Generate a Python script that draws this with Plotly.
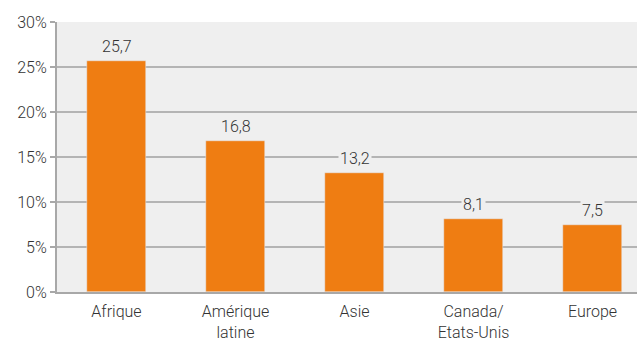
import plotly.graph_objects as go

categories = ["Afrique", "Amérique<br>latine", "Asie", "Canada/<br>Etats-Unis", "Europe"]
values = [25.7, 16.8, 13.2, 8.1, 7.5]
value_labels = ["25,7", "16,8", "13,2", "8,1", "7,5"]
y_ticks = [0, 5, 10, 15, 20, 25, 30]
y_tick_labels = ["0%", "5%", "10%", "15%", "20%", "25%", "30%"]

ORANGE = "#EF7D12"
PLOT_BG = "#EFEFEF"
GRID = "#B4B4B4"
TEXT = "#333333"
FONT = dict(size=16, color=TEXT, weight=300)

fig = go.Figure()
fig.add_bar(x=list(range(len(categories))), y=values, marker_color=ORANGE, width=0.5)

for i, (v, lab) in enumerate(zip(values, value_labels)):
    fig.add_annotation(
        x=i, y=v, text=lab, showarrow=False, yanchor="bottom", yshift=3,
        bgcolor=PLOT_BG, borderpad=1, font=FONT,
    )

fig.update_xaxes(
    tickvals=list(range(len(categories))), ticktext=categories,
    range=[-0.5, 4.374], showgrid=False, ticks="", automargin=False,
    showline=True, linecolor="#A8A8A8", linewidth=2,
    tickfont=FONT, ticklabelstandoff=4,
)
fig.update_yaxes(
    range=[0, 30], tickvals=y_ticks, ticktext=y_tick_labels, automargin=False,
    showgrid=True, gridcolor=GRID, gridwidth=2, zeroline=False,
    showline=True, linecolor="#A8A8A8", linewidth=2,
    ticks="outside", ticklen=5, tickcolor="#A8A8A8", tickwidth=2,
    tickfont=FONT,
)
fig.update_layout(
    width=637, height=341,
    margin=dict(l=57, r=0, t=22, b=49),
    plot_bgcolor=PLOT_BG, paper_bgcolor="white",
    font=dict(family="Roboto", color=TEXT),
    showlegend=False, bargap=0,
)
# the default page has an 8px body margin; drop it so the figure sits at 0,0
fig.write_html(
    "out.html",
    config={"displayModeBar": False},
    post_script="document.body.style.margin='0';",
)
